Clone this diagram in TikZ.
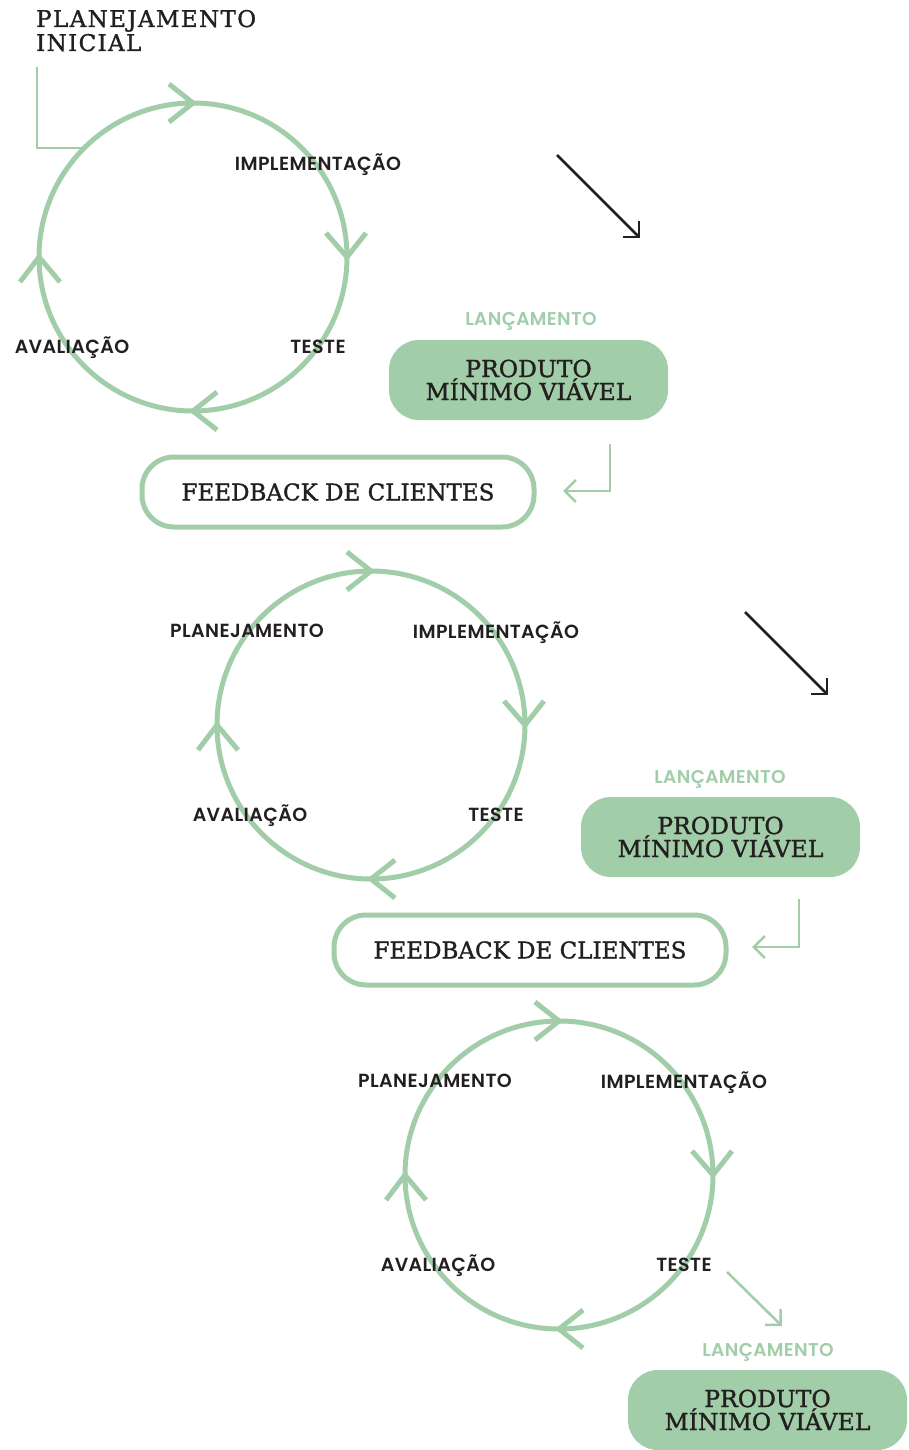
\documentclass[tikz,border=0pt]{standalone}
\usepackage{fontspec}
\setmainfont{DejaVu Serif}
\newfontfamily\slab{DejaVu Serif}[FakeBold=1.3]
\newfontfamily\slabwide{DejaVu Serif}[FakeBold=1.3, LetterSpace=6]
\IfFontExistsTF{Poppins SemiBold}
  {\newfontfamily\lblfont{Poppins SemiBold}[LetterSpace=2]}
  {\newfontfamily\lblfont{Poppins Medium}[LetterSpace=2]}
\usetikzlibrary{arrows.meta,calc}
\definecolor{leaf}{HTML}{A1CEA9}
\definecolor{ink}{HTML}{231F20}

% one iteration loop: ring with four chevrons and three stage labels
\newcommand\drawcycle[3]{%
  \node[loop] (#1) at (#2,#3) {};
  \draw[chev] ($(#1.north)+(-24,-19)$) -- (#1.north) -- ($(#1.north)+(-24,19)$);
  \draw[chev] ($(#1.east)+(-21,-24)$) -- (#1.east) -- ($(#1.east)+(19,-24)$);
  \draw[chev] ($(#1.south)+(24,-19)$) -- (#1.south) -- ($(#1.south)+(24,19)$);
  \draw[chev] ($(#1.west)+(-19,25)$) -- (#1.west) -- ($(#1.west)+(21,25)$);
  \node[stage] (#1-impl) at ($(#1)+(125,-86.5)$) {IMPLEMENTAÇÃO};
  \node[stage] (#1-test) at ($(#1)+(125,96.5)$) {TESTE};
  \node[stage] (#1-eval) at ($(#1)+(-121,96.5)$) {AVALIAÇÃO};
}

\begin{document}
\begin{tikzpicture}[x=1pt,y=-1pt,
  loop/.style={circle, draw=leaf, line width=5pt, minimum size=308pt, inner sep=0pt, outer sep=0pt},
  chev/.style={draw=leaf, line width=5pt},
  stage/.style={font=\lblfont\fontsize{19}{19}\selectfont, text=ink, anchor=base, inner sep=0pt},
  launch/.style={font=\lblfont\fontsize{18.5}{18.5}\selectfont, text=leaf, anchor=base, inner sep=0pt},
  mvp/.style={rectangle, rounded corners=30pt, fill=leaf, minimum width=279pt, minimum height=80pt, align=center, font=\slab\fontsize{23.5}{23}\selectfont, text=ink, inner sep=0pt},
  fbk/.style={rectangle, rounded corners=32pt, draw=leaf, line width=5pt, fill=white, minimum width=392pt, minimum height=70pt, font=\slab\fontsize{23}{23}\selectfont, text=ink, inner sep=0pt},
  pointer/.style={line width=2.5pt, -{Straight Barb[length=11pt,width=22pt]}},
  heading/.style={anchor=base west, inner sep=0pt, font=\slabwide\fontsize{23}{23}\selectfont, text=ink},
]
\fill[white] (0,0) rectangle (908,1450);
\useasboundingbox (0,0) rectangle (908,1450);

% title
\node[heading] (title1) at (36,27) {PLANEJAMENTO};
\node[heading] (title2) at (36,51) {INICIAL};

% first loop
\drawcycle{c1}{193}{257}
\coordinate (tick) at (37,67);
\draw[leaf, line width=2.2pt] (c1.135) -| (tick);

\coordinate (a1s) at (557,155);
\coordinate (a1t) at (640,238);
\draw[pointer, ink] (a1s) -- (a1t);

\node[launch] (l1) at (531,325) {LANÇAMENTO};
\node[mvp] (m1) at (528.5,380) {PRODUTO\\MÍNIMO VIÁVEL};
\coordinate (e1s) at (610,444);
\coordinate (e1t) at (563,491);
\draw[pointer, leaf] (e1s) |- (e1t);
\node[fbk] (f1) at (338,492) {FEEDBACK DE CLIENTES};

% second loop
\drawcycle{c2}{371}{725}
\node[stage] (c2-plan) at ($(c2)+(-124,-87.5)$) {PLANEJAMENTO};

\coordinate (a2s) at (745,612);
\coordinate (a2t) at (828,695);
\draw[pointer, ink] (a2s) -- (a2t);

\node[launch] (l2) at (720,783) {LANÇAMENTO};
\node[mvp] (m2) at (720.5,837) {PRODUTO\\MÍNIMO VIÁVEL};
\coordinate (e2s) at (799,899);
\coordinate (e2t) at (752,947);
\draw[pointer, leaf] (e2s) |- (e2t);
\node[fbk] (f2) at (530,950) {FEEDBACK DE CLIENTES};

% third loop
\drawcycle{c3}{559}{1175}
\node[stage] (c3-plan) at ($(c3)+(-124,-87.5)$) {PLANEJAMENTO};

\coordinate (a3s) at (727,1272);
\coordinate (a3t) at (782,1326);
\draw[pointer, leaf] (a3s) -- (a3t);

\node[launch] (l3) at (768,1356) {LANÇAMENTO};
\node[mvp] (m3) at (767.5,1410) {PRODUTO\\MÍNIMO VIÁVEL};
\end{tikzpicture}
\end{document}
